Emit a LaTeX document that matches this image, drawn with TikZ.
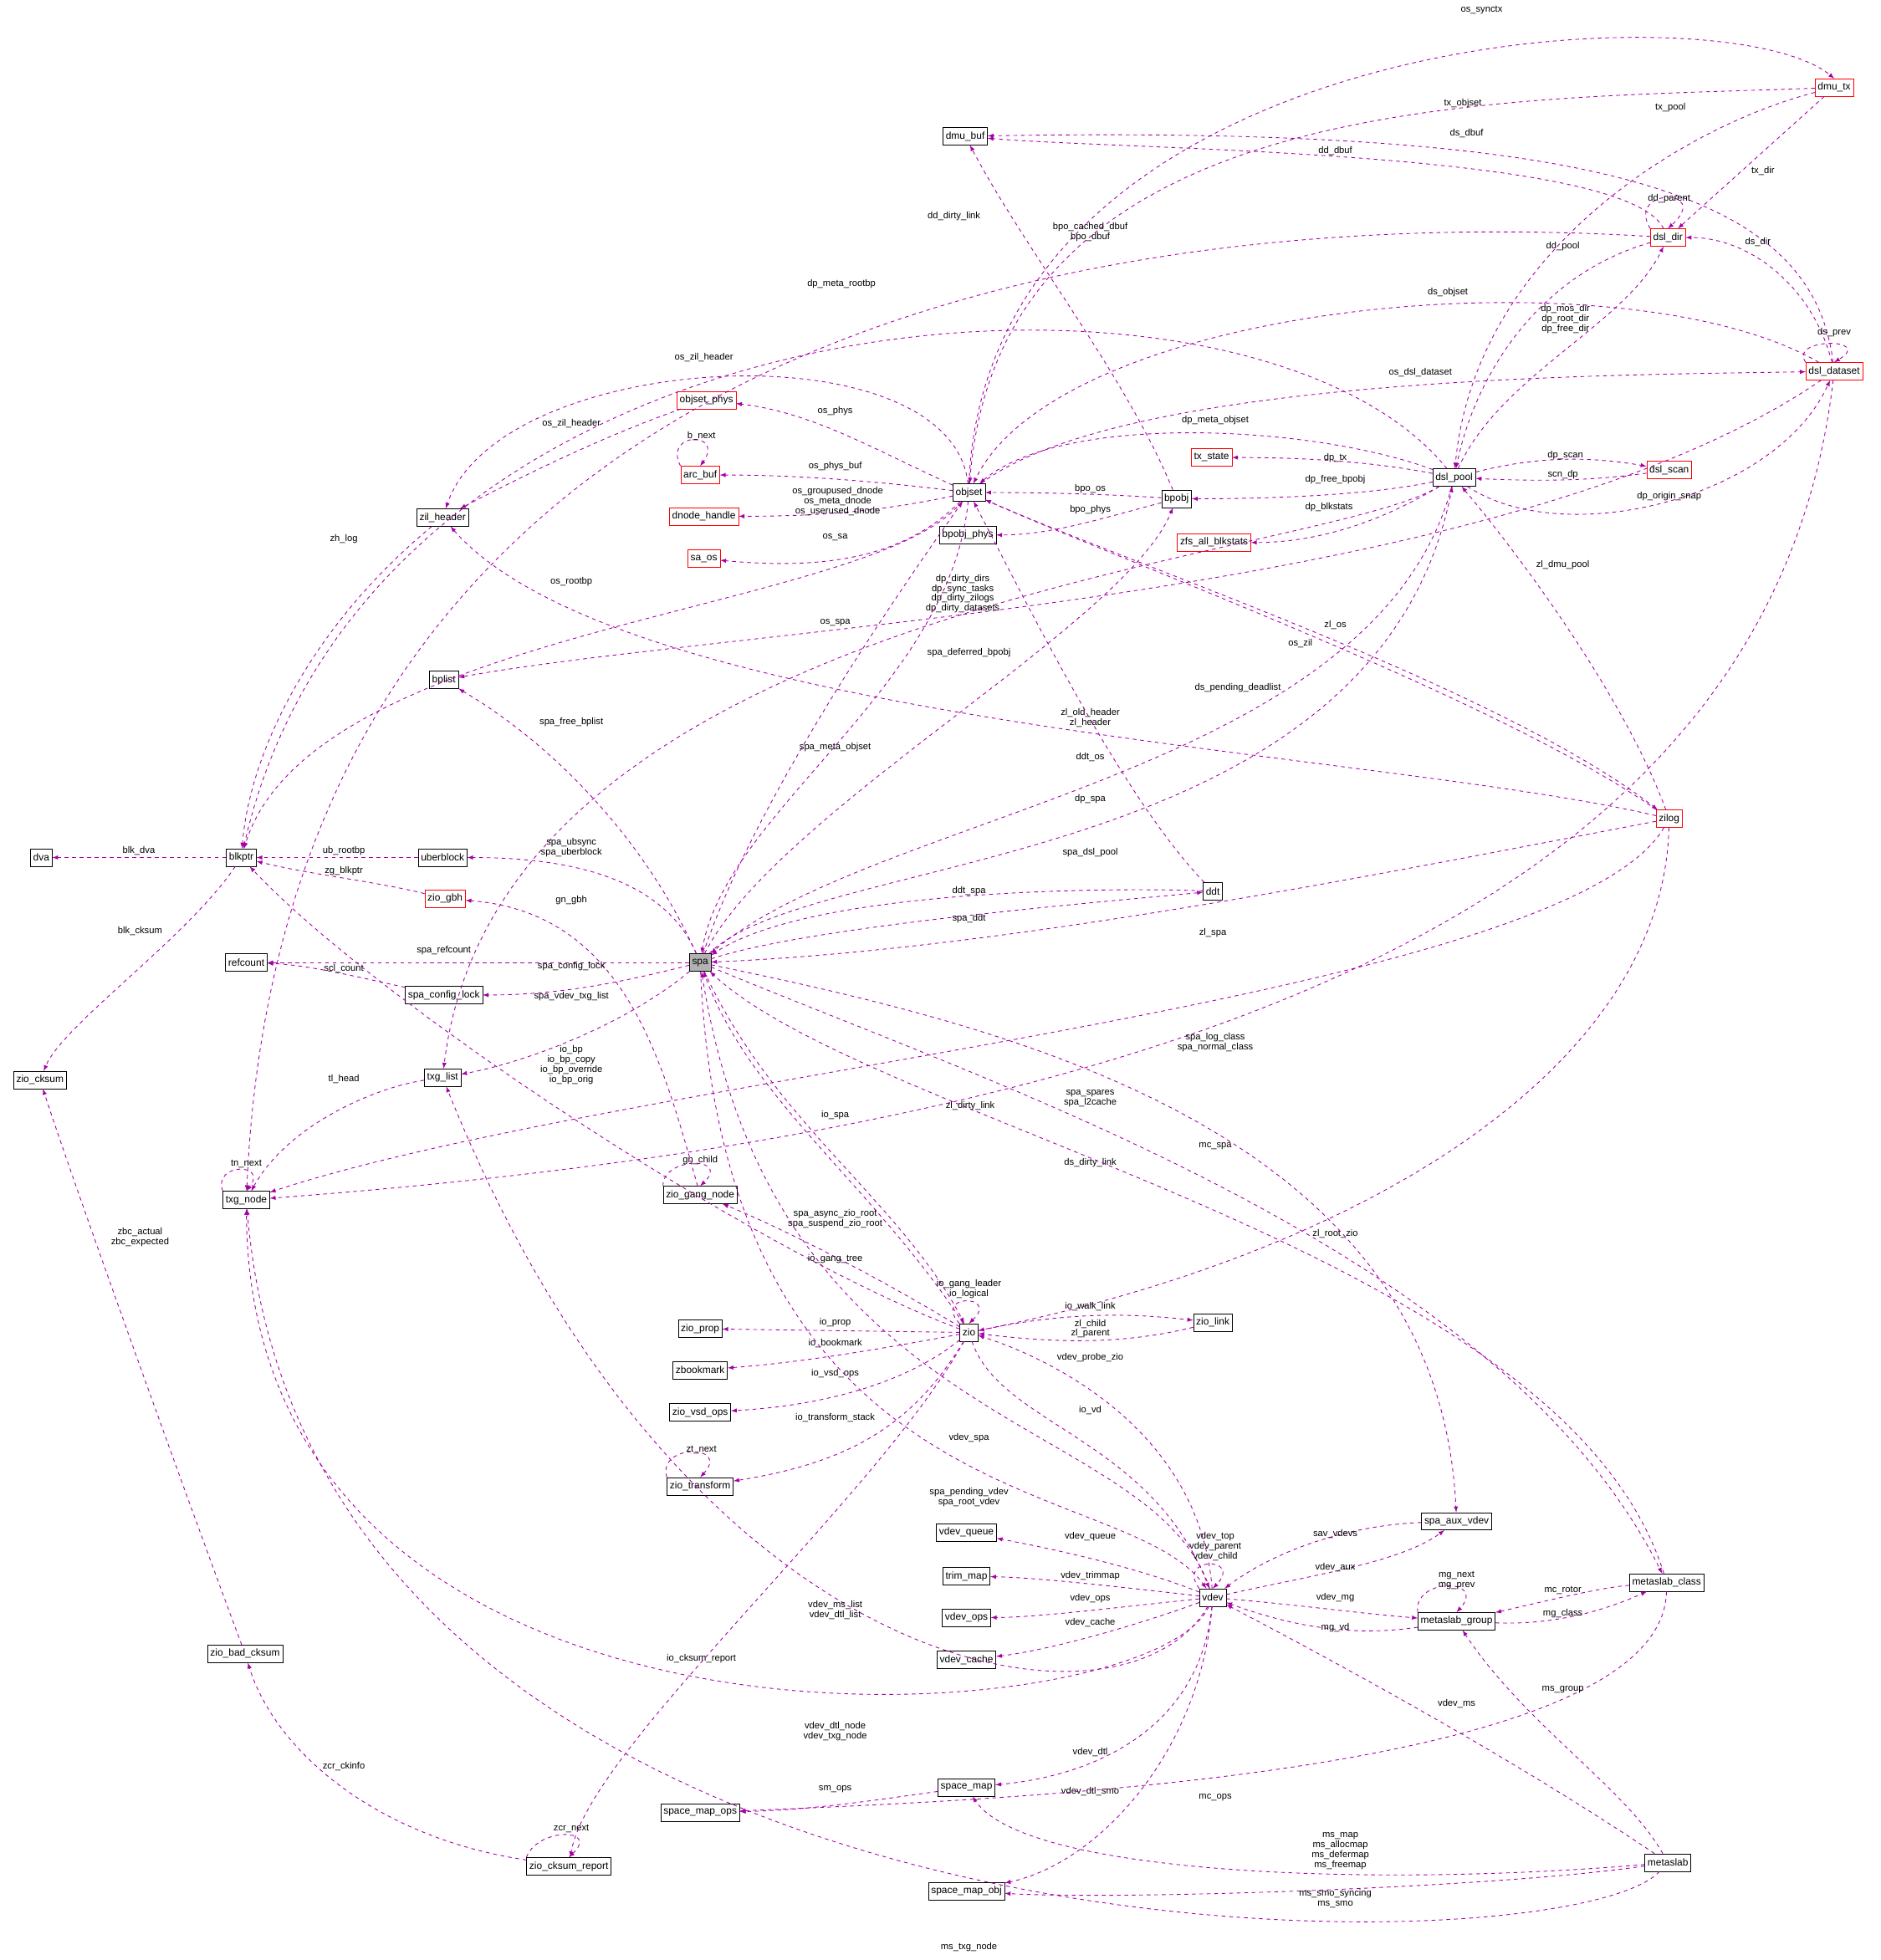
\documentclass[tikz,border=0pt]{standalone}
\usepackage{fontspec}
\setmainfont{Liberation Sans}
\begin{document}
\begin{tikzpicture}[x=1pt,y=-1pt,
 n/.style={draw=black,fill=white,inner sep=2.2pt,minimum height=14pt,font=\fontsize{8}{9}\selectfont},
 r/.style={n,draw=red},
 e/.style={draw=violet!70!magenta,dashed,-latex,line width=0.6pt},
 l/.style={font=\fontsize{7.5}{8}\selectfont,align=center,inner sep=0.5pt}]
\useasboundingbox (0,0) rectangle (1504,1568);
\colorlet{ec}{violet!70!magenta}
% nodes
\node[r] (dmu_tx) at (1467,70) {dmu\_tx};
\node[n] (dmu_buf) at (772,109) {dmu\_buf};
\node[r] (dsl_dir) at (1334,190) {dsl\_dir};
\node[r] (dsl_dataset) at (1467,297) {dsl\_dataset};
\node[r] (objset_phys) at (565,320) {objset\_phys};
\node[r] (arc_buf) at (560,380) {arc\_buf};
\node[n] (objset) at (775,394) {objset};
\node[r] (dnode_handle) at (563,413) {dnode\_handle};
\node[r] (sa_os) at (563,447) {sa\_os};
\node[n] (zil_header) at (354,414) {zil\_header};
\node[r] (tx_state) at (969,366) {tx\_state};
\node[n] (dsl_pool) at (1163,382) {dsl\_pool};
\node[r] (dsl_scan) at (1335,376) {dsl\_scan};
\node[n] (bpobj) at (941,399) {bpobj};
\node[n] (bpobj_phys) at (774,428) {bpobj\_phys};
\node[r] (zfs_all) at (971,434) {zfs\_all\_blkstats};
\node[n] (bplist) at (355,544) {bplist};
\node[r] (zilog) at (1335,655) {zilog};
\node[n] (dva) at (33,686) {dva};
\node[n] (blkptr) at (193,686) {blkptr};
\node[n] (uberblock) at (354,686) {uberblock};
\node[r] (zio_gbh) at (356,719) {zio\_gbh};
\node[n] (ddt) at (970,713) {ddt};
\node[n] (refcount) at (197,770) {refcount};
\node[n,fill=gray!60] (spa) at (560,770) {spa};
\node[n] (spa_config_lock) at (355,796) {spa\_config\_lock};
\node[n] (txg_list) at (354,862) {txg\_list};
\node[n] (zio_cksum) at (32,864) {zio\_cksum};
\node[n] (txg_node) at (197,960) {txg\_node};
\node[n] (zio_gang_node) at (560,956) {zio\_gang\_node};
\node[n] (zio_prop) at (560,1063) {zio\_prop};
\node[n] (zio) at (775,1066) {zio};
\node[n] (zio_link) at (970,1058) {zio\_link};
\node[n] (zbookmark) at (560,1096) {zbookmark};
\node[n] (zio_vsd_ops) at (560,1130) {zio\_vsd\_ops};
\node[n] (zio_transform) at (560,1189) {zio\_transform};
\node[n] (spa_aux_vdev) at (1165,1217) {spa\_aux\_vdev};
\node[n] (vdev_queue) at (773,1226) {vdev\_queue};
\node[n] (trim_map) at (773,1261) {trim\_map};
\node[n] (vdev) at (970,1278) {vdev};
\node[n] (metaslab_class) at (1333,1266) {metaslab\_class};
\node[n] (metaslab_group) at (1165,1297) {metaslab\_group};
\node[n] (vdev_ops) at (773,1294) {vdev\_ops};
\node[n] (vdev_cache) at (773,1328) {vdev\_cache};
\node[n] (zio_bad_cksum) at (196,1323) {zio\_bad\_cksum};
\node[n] (space_map) at (773,1430) {space\_map};
\node[n] (space_map_ops) at (560,1450) {space\_map\_ops};
\node[n] (zio_cksum_report) at (455,1493) {zio\_cksum\_report};
\node[n] (metaslab) at (1334,1490) {metaslab};
\node[n] (space_map_obj) at (773,1513) {space\_map\_obj};
% edges
\draw[e] (objset.north) .. controls (790,20) and (1380,-10) .. (dmu_tx.north);
\node[l] (la1) at (1185,8) {os\_synctx};
\draw[e] (dmu_tx) .. controls (1200,80) and (800,70) .. (objset);
\node[l] (la2) at (1170,83) {tx\_objset};
\draw[e] (dmu_tx) .. controls (1350,100) and (1180,200) .. (dsl_pool);
\node[l] (la3) at (1336,86) {tx\_pool};
\draw[e] (dmu_tx) -- (dsl_dir);
\node[l] (la4) at (1410,137) {tx\_dir};
\draw[e] (dsl_dataset) .. controls (1450,160) and (1300,100) .. (dmu_buf);
\node[l] (la5) at (1173,107) {ds\_dbuf};
\draw[e] (dsl_dir) .. controls (1300,120) and (900,120) .. (dmu_buf);
\node[l] (la6) at (1068,121) {dd\_dbuf};
\draw[e] (bpobj) .. controls (900,300) and (820,200) .. (dmu_buf);
\node[l] (la7) at (872,186) {bpo\_cached\_dbuf\\bpo\_dbuf};
\draw[e] (dsl_dir.north west) .. controls (1300,150) and (1370,150) .. (dsl_dir.north);
\node[l] (la8) at (1335,159) {dd\_parent};
\draw[e] (dsl_dir) .. controls (1000,170) and (230,200) .. (txg_node);
\node[l] (la9) at (763,173) {dd\_dirty\_link};
\draw[e] (dsl_dir) .. controls (1230,220) and (1180,300) .. (dsl_pool);
\node[l] (la10) at (1250,197) {dd\_pool};
\draw[e] (dsl_dataset) .. controls (1450,230) and (1400,190) .. (dsl_dir);
\node[l] (la11) at (1406,194) {ds\_dir};
\draw[e] (dsl_dataset.north west) .. controls (1430,270) and (1500,270) .. (dsl_dataset.north);
\node[l] (la12) at (1467,266) {ds\_prev};
\draw[e] (dsl_dataset) .. controls (1300,200) and (850,240) .. (objset);
\node[l] (la13) at (1158,234) {ds\_objset};
\draw[e] (dsl_pool) .. controls (1200,300) and (1300,260) .. (dsl_dir);
\node[l] (la14) at (1252,255) {dp\_mos\_dir\\dp\_root\_dir\\dp\_free\_dir};
\draw[e] (dsl_pool) .. controls (1000,180) and (300,220) .. (blkptr);
\node[l] (la15) at (673,227) {dp\_meta\_rootbp};
\draw[e] (objset) .. controls (900,300) and (1300,300) .. (dsl_dataset);
\node[l] (la16) at (1136,298) {os\_dsl\_dataset};
\draw[e] (dsl_pool) .. controls (1050,340) and (850,330) .. (objset);
\node[l] (la17) at (972,336) {dp\_meta\_objset};
\draw[e] (dsl_pool) .. controls (1100,370) and (1050,366) .. (tx_state);
\node[l] (la18) at (1068,366) {dp\_tx};
\draw[e] (dsl_pool) .. controls (1230,365) and (1270,365) .. (dsl_scan);
\node[l] (la19) at (1252,364) {dp\_scan};
\draw[e] (dsl_scan) .. controls (1270,385) and (1230,385) .. (dsl_pool);
\node[l] (la20) at (1250,380) {scn\_dp};
\draw[e] (dsl_pool) .. controls (1100,395) and (1030,399) .. (bpobj);
\node[l] (la21) at (1068,384) {dp\_free\_bpobj};
\draw[e] (dsl_pool) .. controls (1100,420) and (1050,434) .. (zfs_all);
\node[l] (la22) at (1063,406) {dp\_blkstats};
\draw[e] (dsl_pool) .. controls (1250,440) and (1420,400) .. (dsl_dataset);
\node[l] (la23) at (1335,397) {dp\_origin\_snap};
\draw[e] (dsl_pool) .. controls (1050,450) and (400,480) .. (txg_list);
\node[l] (la24) at (770,475) {dp\_dirty\_dirs\\dp\_sync\_tasks\\dp\_dirty\_zilogs\\dp\_dirty\_datasets};
\draw[e] (dsl_pool) .. controls (1100,620) and (700,650) .. (spa);
\node[l] (la25) at (872,639) {dp\_spa};
\draw[e] (objset) .. controls (760,260) and (400,280) .. (zil_header);
\node[l] (la26) at (563,286) {os\_zil\_header};
\draw[e] (objset_phys) .. controls (480,350) and (420,380) .. (zil_header);
\node[l] (la27) at (457,339) {os\_zil\_header};
\draw[e] (objset) .. controls (700,360) and (650,330) .. (objset_phys);
\node[l] (la28) at (668,329) {os\_phys};
\draw[e] (arc_buf.north west) .. controls (530,345) and (580,345) .. (arc_buf.north);
\node[l] (la29) at (561,349) {b\_next};
\draw[e] (objset) .. controls (700,385) and (640,380) .. (arc_buf);
\node[l] (la30) at (668,373) {os\_phys\_buf};
\draw[e] (objset) .. controls (700,410) and (650,413) .. (dnode_handle);
\node[l] (la31) at (670,401) {os\_groupused\_dnode\\os\_meta\_dnode\\os\_userused\_dnode};
\draw[e] (objset) .. controls (720,450) and (650,455) .. (sa_os);
\node[l] (la32) at (668,430) {os\_sa};
\draw[e] (objset) .. controls (700,490) and (250,500) .. (blkptr);
\node[l] (la33) at (457,465) {os\_rootbp};
\draw[e] (objset) .. controls (760,550) and (580,650) .. (spa);
\node[l] (la34) at (668,498) {os\_spa};
\draw[e] (bpobj) .. controls (880,395) and (830,394) .. (objset);
\node[l] (la35) at (872,391) {bpo\_os};
\draw[e] (bpobj) .. controls (880,415) and (840,428) .. (bpobj_phys);
\node[l] (la36) at (872,408) {bpo\_phys};
\draw[e] (zilog) .. controls (1200,560) and (900,450) .. (objset);
\node[l] (la37) at (1068,500) {zl\_os};
\draw[e] (zilog) .. controls (1300,560) and (1220,450) .. (dsl_pool);
\node[l] (la38) at (1250,452) {zl\_dmu\_pool};
\draw[e] (zilog) .. controls (1100,600) and (500,580) .. (zil_header);
\node[l] (la39) at (872,574) {zl\_old\_header\\zl\_header};
\draw[e] (zilog) .. controls (1100,700) and (800,760) .. (spa);
\node[l] (la40) at (970,746) {zl\_spa};
\draw[e] (zilog) .. controls (1250,800) and (500,860) .. (txg_node);
\node[l] (la41) at (776,885) {zl\_dirty\_link};
\draw[e] (zilog) .. controls (1330,850) and (1100,1000) .. (zio);
\node[l] (la42) at (1068,987) {zl\_root\_zio};
\draw[e] (dsl_dataset) .. controls (1420,700) and (1000,900) .. (txg_node);
\node[l] (la43) at (872,930) {ds\_dirty\_link};
\draw[e] (objset) .. controls (900,450) and (1200,550) .. (zilog);
\node[l] (la44) at (1040,515) {os\_zil};
\draw[e] (dsl_dataset) .. controls (1200,480) and (600,500) .. (bplist);
\node[l] (la45) at (990,550) {ds\_pending\_deadlist};
\draw[e] (zil_header) .. controls (250,500) and (200,600) .. (blkptr);
\node[l] (la46) at (275,431) {zh\_log};
\draw[e] (spa) .. controls (520,680) and (450,600) .. (bplist);
\node[l] (la47) at (457,578) {spa\_free\_bplist};
\draw[e] (spa) .. controls (530,700) and (450,686) .. (uberblock);
\node[l] (la48) at (457,678) {spa\_ubsync\\spa\_uberblock};
\draw[e] (zio_gang_node) .. controls (530,850) and (500,730) .. (zio_gbh);
\node[l] (la49) at (457,720) {gn\_gbh};
\draw[e] (uberblock) -- (blkptr);
\node[l] (la50) at (275,681) {ub\_rootbp};
\draw[e] (zio_gbh) .. controls (300,705) and (250,700) .. (blkptr);
\node[l] (la51) at (275,697) {zg\_blkptr};
\draw[e] (blkptr) -- (dva);
\node[l] (la52) at (111,681) {blk\_dva};
\draw[e] (blkptr) .. controls (150,750) and (50,820) .. (zio_cksum);
\node[l] (la53) at (112,745) {blk\_cksum};
\draw[e] (spa) -- (refcount);
\node[l] (la54) at (355,760) {spa\_refcount};
\draw[e] (spa_config_lock) .. controls (300,785) and (250,772) .. (refcount);
\node[l] (la55) at (275,775) {scl\_count};
\draw[e] (spa) .. controls (500,785) and (450,796) .. (spa_config_lock);
\node[l] (la56) at (457,773) {spa\_config\_lock};
\draw[e] (spa) .. controls (500,820) and (420,850) .. (txg_list);
\node[l] (la57) at (457,797) {spa\_vdev\_txg\_list};
\draw[e] (txg_list) .. controls (300,870) and (230,900) .. (txg_node);
\node[l] (la58) at (275,863) {tl\_head};
\draw[e] (txg_node.north west) .. controls (170,930) and (215,930) .. (txg_node.north);
\node[l] (la59) at (197,931) {tn\_next};
\draw[e] (spa) .. controls (600,650) and (700,500) .. (objset);
\node[l] (la60) at (668,598) {spa\_meta\_objset};
\draw[e] (spa) .. controls (620,650) and (900,500) .. (bpobj);
\node[l] (la61) at (775,522) {spa\_deferred\_bpobj};
\draw[e] (spa) .. controls (650,680) and (1100,700) .. (dsl_pool);
\node[l] (la62) at (872,682) {spa\_dsl\_pool};
\draw[e] (ddt) .. controls (900,710) and (650,710) .. (spa);
\node[l] (la63) at (775,713) {ddt\_spa};
\draw[e] (spa) .. controls (650,740) and (900,720) .. (ddt);
\node[l] (la64) at (775,735) {spa\_ddt};
\draw[e] (ddt) .. controls (900,640) and (830,500) .. (objset);
\node[l] (la65) at (872,606) {ddt\_os};
\draw[e] (spa) .. controls (800,870) and (1200,1000) .. (metaslab_class);
\node[l] (la66) at (972,834) {spa\_log\_class\\spa\_normal\_class};
\draw[e] (spa) .. controls (800,820) and (1150,900) .. (spa_aux_vdev);
\node[l] (la67) at (872,879) {spa\_spares\\spa\_l2cache};
\draw[e] (metaslab_class) .. controls (1250,1000) and (700,900) .. (spa);
\node[l] (la68) at (972,917) {mc\_spa};
\draw[e] (zio) .. controls (600,1000) and (300,800) .. (blkptr);
\node[l] (la69) at (457,852) {io\_bp\\io\_bp\_copy\\io\_bp\_override\\io\_bp\_orig};
\draw[e] (zio) .. controls (700,950) and (600,880) .. (spa);
\node[l] (la70) at (668,892) {io\_spa};
\draw[e] (zio_gang_node.north west) .. controls (530,925) and (585,925) .. (zio_gang_node.north);
\node[l] (la71) at (560,928) {gn\_child};
\draw[e] (zio) .. controls (700,1020) and (620,980) .. (zio_gang_node);
\node[l] (la72) at (668,1007) {io\_gang\_tree};
\draw[e] (spa) .. controls (620,900) and (720,960) .. (zio);
\node[l] (la73) at (668,975) {spa\_async\_zio\_root\\spa\_suspend\_zio\_root};
\draw[e] (zio.north west) .. controls (745,1035) and (800,1035) .. (zio.north);
\node[l] (la74) at (775,1031) {io\_gang\_leader\\io\_logical};
\draw[e] (zio) .. controls (850,1050) and (900,1050) .. (zio_link);
\node[l] (la75) at (872,1045) {io\_walk\_link};
\draw[e] (zio_link) .. controls (900,1075) and (850,1075) .. (zio);
\node[l] (la76) at (872,1063) {zl\_child\\zl\_parent};
\draw[e] (zio) -- (zio_prop);
\node[l] (la77) at (668,1058) {io\_prop};
\draw[e] (zio) .. controls (700,1080) and (640,1090) .. (zbookmark);
\node[l] (la78) at (668,1075) {io\_bookmark};
\draw[e] (zio) .. controls (720,1110) and (650,1125) .. (zio_vsd_ops);
\node[l] (la79) at (668,1099) {io\_vsd\_ops};
\draw[e] (zio) .. controls (730,1140) and (680,1170) .. (zio_transform);
\node[l] (la80) at (668,1134) {io\_transform\_stack};
\draw[e] (zio_transform.north west) .. controls (525,1155) and (585,1155) .. (zio_transform.north);
\node[l] (la81) at (561,1160) {zt\_next};
\draw[e] (zio) .. controls (800,1140) and (920,1150) .. (vdev);
\node[l] (la82) at (872,1128) {io\_vd};
\draw[e] (vdev) .. controls (960,1150) and (850,1090) .. (zio);
\node[l] (la83) at (872,1086) {vdev\_probe\_zio};
\draw[e] (vdev) .. controls (920,1130) and (620,1150) .. (spa);
\node[l] (la84) at (775,1150) {vdev\_spa};
\draw[e] (spa) .. controls (580,1220) and (900,1180) .. (vdev);
\node[l] (la85) at (775,1198) {spa\_pending\_vdev\\spa\_root\_vdev};
\draw[e] (vdev.north west) .. controls (940,1245) and (995,1245) .. (vdev.north);
\node[l] (la86) at (972,1237) {vdev\_top\\vdev\_parent\\vdev\_child};
\draw[e] (spa_aux_vdev) .. controls (1080,1220) and (1020,1240) .. (vdev);
\node[l] (la87) at (1068,1227) {sav\_vdevs};
\draw[e] (vdev) .. controls (1050,1260) and (1120,1250) .. (spa_aux_vdev);
\node[l] (la88) at (1068,1254) {vdev\_aux};
\draw[e] (vdev) .. controls (900,1250) and (820,1235) .. (vdev_queue);
\node[l] (la89) at (872,1229) {vdev\_queue};
\draw[e] (vdev) .. controls (900,1270) and (830,1262) .. (trim_map);
\node[l] (la90) at (872,1261) {vdev\_trimmap};
\draw[e] (vdev) .. controls (900,1285) and (830,1294) .. (vdev_ops);
\node[l] (la91) at (872,1279) {vdev\_ops};
\draw[e] (vdev) .. controls (910,1300) and (840,1320) .. (vdev_cache);
\node[l] (la92) at (872,1298) {vdev\_cache};
\draw[e] (vdev) .. controls (1050,1285) and (1080,1290) .. (metaslab_group);
\node[l] (la93) at (1068,1278) {vdev\_mg};
\draw[e] (metaslab_group) .. controls (1080,1310) and (1030,1300) .. (vdev);
\node[l] (la94) at (1068,1302) {mg\_vd};
\draw[e] (metaslab_group.north west) .. controls (1130,1262) and (1190,1262) .. (metaslab_group.north);
\node[l] (la95) at (1165,1264) {mg\_next\\mg\_prev};
\draw[e] (metaslab_class) .. controls (1280,1270) and (1240,1280) .. (metaslab_group);
\node[l] (la96) at (1250,1272) {mc\_rotor};
\draw[e] (metaslab_group) .. controls (1240,1300) and (1280,1290) .. (metaslab_class);
\node[l] (la97) at (1250,1291) {mg\_class};
\draw[e] (vdev) .. controls (900,1400) and (550,1350) .. (txg_list);
\node[l] (la98) at (668,1288) {vdev\_ms\_list\\vdev\_dtl\_list};
\draw[e] (vdev) .. controls (920,1390) and (200,1440) .. (txg_node);
\node[l] (la99) at (668,1385) {vdev\_dtl\_node\\vdev\_txg\_node};
\draw[e] (vdev) .. controls (960,1380) and (880,1420) .. (space_map);
\node[l] (la100) at (872,1402) {vdev\_dtl};
\draw[e] (vdev) .. controls (960,1400) and (880,1490) .. (space_map_obj);
\node[l] (la101) at (872,1433) {vdev\_dtl\_smo};
\draw[e] (metaslab) .. controls (1200,1400) and (1050,1320) .. (vdev);
\node[l] (la102) at (1165,1363) {vdev\_ms};
\draw[e] (zio) .. controls (700,1200) and (470,1400) .. (zio_cksum_report);
\node[l] (la103) at (561,1327) {io\_cksum\_report};
\draw[e] (zio_cksum_report.north west) .. controls (430,1462) and (480,1462) .. (zio_cksum_report.north);
\node[l] (la104) at (457,1463) {zcr\_next};
\draw[e] (zio_cksum_report) .. controls (300,1470) and (220,1400) .. (zio_bad_cksum);
\node[l] (la105) at (275,1413) {zcr\_ckinfo};
\draw[e] (zio_bad_cksum) .. controls (150,1200) and (60,950) .. (zio_cksum);
\node[l] (la106) at (112,990) {zbc\_actual\\zbc\_expected};
\draw[e] (metaslab_class) .. controls (1330,1420) and (800,1440) .. (space_map_ops);
\node[l] (la107) at (972,1438) {mc\_ops};
\draw[e] (space_map) .. controls (700,1440) and (650,1448) .. (space_map_ops);
\node[l] (la108) at (668,1431) {sm\_ops};
\draw[e] (metaslab) .. controls (1300,1430) and (1220,1380) .. (metaslab_group);
\node[l] (la109) at (1250,1352) {ms\_group};
\draw[e] (metaslab) .. controls (1100,1510) and (820,1500) .. (space_map);
\node[l] (la110) at (1072,1481) {ms\_map\\ms\_allocmap\\ms\_defermap\\ms\_freemap};
\draw[e] (metaslab) .. controls (1200,1510) and (900,1520) .. (space_map_obj);
\node[l] (la111) at (1068,1519) {ms\_smo\_syncing\\ms\_smo};
\draw[e] (metaslab) .. controls (1250,1580) and (250,1590) .. (txg_node);
\node[l] (la112) at (775,1558) {ms\_txg\_node};
\end{tikzpicture}
\end{document}
